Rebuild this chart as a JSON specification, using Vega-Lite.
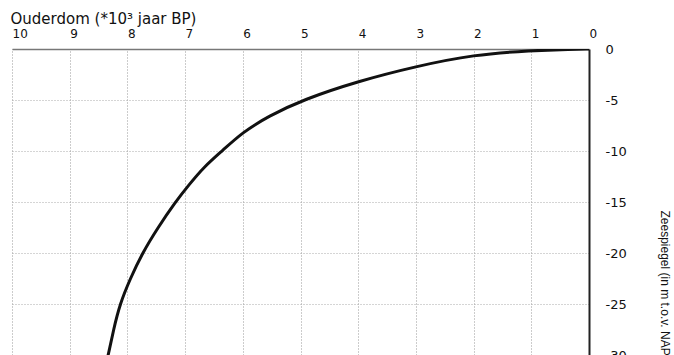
{
  "$schema": "https://vega.github.io/schema/vega-lite/v6.json",
  "autosize": {"type": "none"},
  "padding": {"left": 12, "top": 49, "right": 85, "bottom": 0},
  "width": 577,
  "height": 306,
  "background": "white",
  "config": {"view": {"stroke": null}},
  "data": {
    "values": [
      {"age": 8.38, "depth": -31},
      {"age": 8.33, "depth": -30},
      {"age": 8.24, "depth": -27.5},
      {"age": 8.13, "depth": -25},
      {"age": 7.95, "depth": -22.5},
      {"age": 7.74, "depth": -20},
      {"age": 7.47, "depth": -17.5},
      {"age": 7.17, "depth": -15},
      {"age": 6.93, "depth": -13.3},
      {"age": 6.68, "depth": -11.6},
      {"age": 6.36, "depth": -10},
      {"age": 6.0, "depth": -8.15},
      {"age": 5.56, "depth": -6.6},
      {"age": 4.95, "depth": -4.95},
      {"age": 4.0, "depth": -3.15},
      {"age": 3.0, "depth": -1.7},
      {"age": 2.0, "depth": -0.55},
      {"age": 1.0, "depth": -0.15},
      {"age": 0.3, "depth": -0.02},
      {"age": 0, "depth": 0}
    ]
  },
  "mark": {"type": "line", "color": "#111", "strokeWidth": 3, "interpolate": "basis", "clip": true},
  "encoding": {
    "x": {
      "field": "age",
      "type": "quantitative",
      "scale": {"domain": [0, 10], "reverse": true, "nice": false, "zero": false},
      "axis": {
        "orient": "top",
        "values": [0, 1, 2, 3, 4, 5, 6, 7, 8, 9, 10],
        "title": "Ouderdom (*10³ jaar BP)",
        "titleFont": "DejaVu Sans",
        "titleFontSize": 15,
        "titleFontWeight": "normal",
        "titleColor": "#111",
        "titleAnchor": "start",
        "titleAlign": "left",
        "titleBaseline": "alphabetic",
        "titleX": -2,
        "titleY": -26,
        "labelFont": "DejaVu Sans",
        "labelFontSize": 12,
        "labelColor": "#111",
        "labelAlign": "left",
        "labelBaseline": "alphabetic",
        "labelPadding": 12,
        "labelFlush": false,
        "labelOverlap": false,
        "ticks": false,
        "domainColor": "#777",
        "domainWidth": 1.5,
        "grid": true,
        "gridColor": "#999",
        "gridDash": [1, 2],
        "gridWidth": 1
      }
    },
    "y": {
      "field": "depth",
      "type": "quantitative",
      "scale": {"domain": [-30, 0], "nice": false, "zero": false},
      "axis": {
        "orient": "right",
        "values": [0, -5, -10, -15, -20, -25, -30],
        "labelExpr": "datum.value + ''",
        "title": "Zeespiegel (in m t.o.v. NAP)",
        "titleFont": "Liberation Sans",
        "titleFontSize": 12,
        "titleFontWeight": "normal",
        "titleColor": "#111",
        "titleAngle": 90,
        "titleAlign": "left",
        "titleBaseline": "alphabetic",
        "titleX": 71,
        "titleY": 161,
        "labelFont": "DejaVu Sans",
        "labelFontSize": 13,
        "labelColor": "#111",
        "labelAlign": "left",
        "labelBaseline": "middle",
        "labelDy": -5.5,
        "labelPadding": 16,
        "labelFlush": false,
        "labelOverlap": false,
        "ticks": false,
        "domainColor": "#222",
        "domainWidth": 2,
        "grid": true,
        "gridColor": "#aaa",
        "gridDash": [1, 2],
        "gridWidth": 1
      }
    }
  }
}
